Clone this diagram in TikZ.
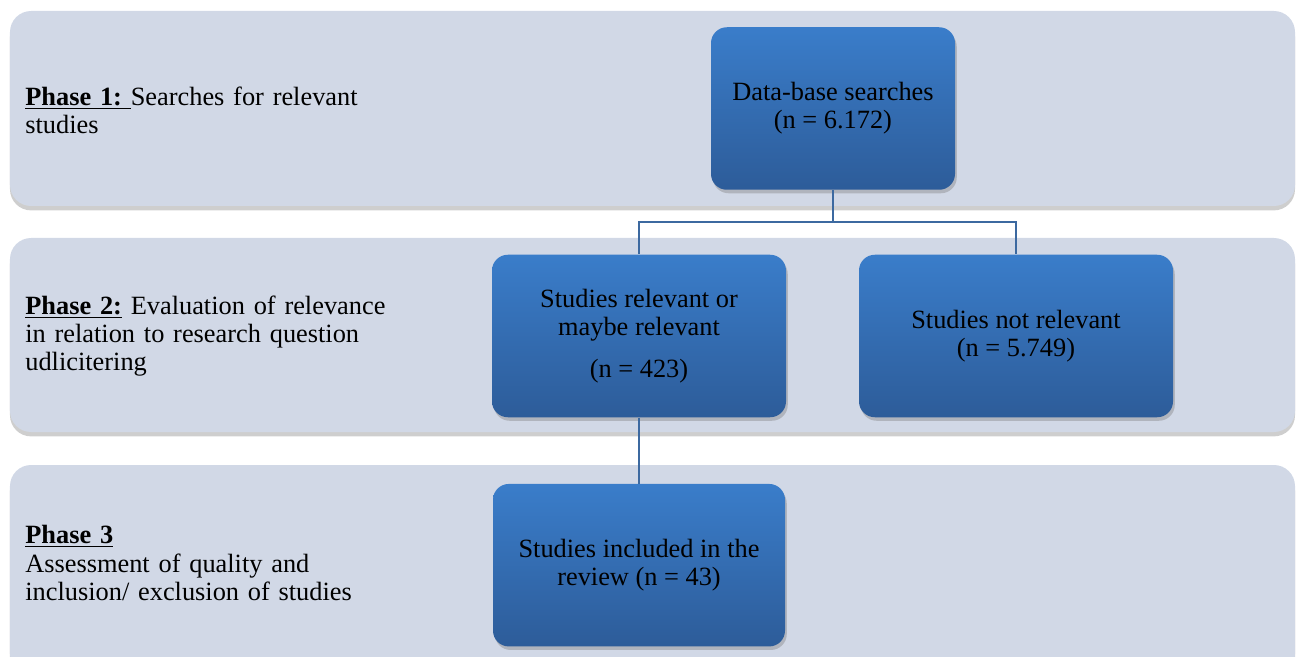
\documentclass[tikz,border=0pt]{standalone}
\usepackage{fontspec}
\setmainfont{Liberation Serif}
\usetikzlibrary{positioning,shadows,calc}
\definecolor{bandgray}{RGB}{209,216,230}
\definecolor{boxtop}{RGB}{58,125,202}
\definecolor{boxbot}{RGB}{45,92,153}
\definecolor{link}{RGB}{60,105,160}

\begin{document}
\begin{tikzpicture}
\tikzstyle{every node}=[font=\fontsize{15}{16}\selectfont]
\tikzstyle{band}=[fill=bandgray, rounded corners=12pt,
  drop shadow={shadow xshift=0pt, shadow yshift=-2.5pt, opacity=.35, fill=black!55}]
\tikzstyle{stage}=[rectangle, rounded corners=9pt, top color=boxtop, bottom color=boxbot,
  drop shadow={shadow xshift=1pt, shadow yshift=-2pt, opacity=.4}, align=center,
  minimum height=3.25cm, inner sep=0pt]
\tikzstyle{phase}=[anchor=west, align=left, text width=8cm, inner sep=0pt]
\useasboundingbox (0,0) rectangle (25.94,-13.14);
% the three phase bands
\path[band] (0.2,-0.22) rectangle (25.9,-4.12);
\path[band] (0.2,-4.76) rectangle (25.9,-8.64);
\path[band] (0.2,-9.3) rectangle (25.9,-13.5);
% phase texts
\node[phase] (p1) at (0.5,-2.2) {\underline{\textbf{Phase 1:}\ }Searches for relevant\\studies};
\node[phase] (p2) at (0.5,-6.72) {\underline{\textbf{Phase 2:}} Evaluation of relevance\\in relation to research question\\udlicitering};
\node[phase] (p3) at (0.5,-11.26) {\underline{\textbf{Phase 3}}\\Assessment of quality and\\inclusion/ exclusion of studies};
% the boxes
\node[stage, minimum width=4.88cm] (db) at (16.66,-2.17) {Data-base searches\\(n = 6.172)};
\node[stage, minimum width=5.88cm] (rel) at (12.78,-6.72) {Studies relevant or\\maybe relevant\\[8pt](n = 423)};
\node[stage, minimum width=6.28cm] (notrel) at (20.32,-6.72) {Studies not relevant\\(n = 5.749)};
\node[stage, minimum width=5.84cm, below=1.32cm of rel] (incl) {Studies included in the\\review (n = 43)};
% connectors
\draw[link, line width=0.8pt] (db.south) -- ++(0,-0.64) -| (rel.north);
\draw[link, line width=0.8pt] (db.south) -- ++(0,-0.64) -| (notrel.north);
\draw[link, line width=0.8pt] (rel.south) -- (incl.north);
\end{tikzpicture}
\end{document}
